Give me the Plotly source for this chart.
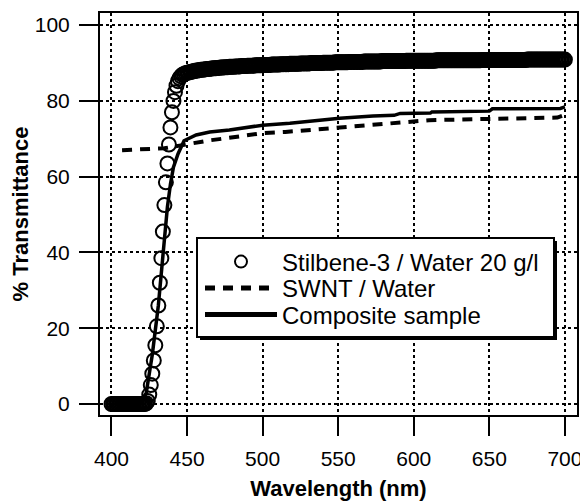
import plotly.graph_objects as go

# ---------------- data ----------------
stilbene_wl = list(range(400, 701))
stilbene_t = [
    0.0, 0.0, 0.0, 0.0, 0.0, 0.0, 0.0, 0.0, 0.0, 0.0,
    0.0, 0.0, 0.0, 0.0, 0.0, 0.0, 0.0, 0.0, 0.0, 0.0,
    0.0, 0.0, 0.0, 0.2, 0.8, 2.5, 5.0, 8.0, 11.5, 15.5,
    20.5, 26.0, 32.0, 38.5, 45.5, 52.5, 58.5, 63.5, 68.5, 73.0,
    77.0, 80.0, 82.3, 84.0, 85.2, 86.0, 86.5, 86.9, 87.1, 87.3,
    87.4, 87.5, 87.6, 87.7, 87.8, 87.9, 88.0, 88.0, 88.1, 88.2,
    88.2, 88.3, 88.3, 88.4, 88.4, 88.5, 88.5, 88.6, 88.6, 88.6,
    88.7, 88.7, 88.8, 88.8, 88.8, 88.9, 88.9, 88.9, 89.0, 89.0,
    89.0, 89.0, 89.1, 89.1, 89.1, 89.1, 89.2, 89.2, 89.2, 89.2,
    89.3, 89.3, 89.3, 89.3, 89.3, 89.4, 89.4, 89.4, 89.4, 89.4,
    89.5, 89.5, 89.5, 89.5, 89.5, 89.5, 89.6, 89.6, 89.6, 89.6,
    89.6, 89.6, 89.7, 89.7, 89.7, 89.7, 89.7, 89.7, 89.8, 89.8,
    89.8, 89.8, 89.8, 89.8, 89.8, 89.9, 89.9, 89.9, 89.9, 89.9,
    89.9, 89.9, 90.0, 90.0, 90.0, 90.0, 90.0, 90.0, 90.0, 90.0,
    90.1, 90.1, 90.1, 90.1, 90.1, 90.1, 90.1, 90.1, 90.2, 90.2,
    90.2, 90.2, 90.2, 90.2, 90.2, 90.2, 90.2, 90.3, 90.3, 90.3,
    90.3, 90.3, 90.3, 90.3, 90.3, 90.3, 90.3, 90.4, 90.4, 90.4,
    90.4, 90.4, 90.4, 90.4, 90.4, 90.4, 90.4, 90.4, 90.4, 90.5,
    90.5, 90.5, 90.5, 90.5, 90.5, 90.5, 90.5, 90.5, 90.5, 90.5,
    90.5, 90.5, 90.5, 90.5, 90.5, 90.6, 90.6, 90.6, 90.6, 90.6,
    90.6, 90.6, 90.6, 90.6, 90.6, 90.6, 90.6, 90.6, 90.6, 90.6,
    90.6, 90.6, 90.6, 90.6, 90.6, 90.7, 90.7, 90.7, 90.7, 90.7,
    90.7, 90.7, 90.7, 90.7, 90.7, 90.7, 90.7, 90.7, 90.7, 90.7,
    90.7, 90.7, 90.7, 90.7, 90.7, 90.7, 90.7, 90.7, 90.7, 90.7,
    90.7, 90.7, 90.7, 90.7, 90.7, 90.8, 90.8, 90.8, 90.8, 90.8,
    90.8, 90.8, 90.8, 90.8, 90.8, 90.8, 90.8, 90.8, 90.8, 90.8,
    90.8, 90.8, 90.8, 90.8, 90.8, 90.8, 90.8, 90.8, 90.8, 90.8,
    90.8, 90.8, 90.8, 90.8, 90.8, 90.9, 90.9, 90.9, 90.9, 90.9,
    90.9, 90.9, 90.9, 90.9, 90.9, 90.9, 90.9, 90.9, 90.9, 90.9,
    90.9, 90.9, 90.9, 90.9, 90.9, 90.9, 90.9, 90.9, 90.9, 90.9,
    90.9,
]

swnt_wl = [407, 415, 425, 435, 445, 455, 465, 475, 485, 500, 515, 530,
           545, 560, 575, 590, 600, 610, 620, 640, 660, 680, 695, 700]
swnt_t = [67.0, 67.1, 67.2, 67.5, 68.2, 69.0, 69.6, 70.1, 70.6, 71.5, 71.8, 72.3,
          72.7, 73.2, 73.6, 74.1, 74.4, 74.9, 75.0, 75.1, 75.4, 75.5, 75.6, 76.3]

composite_wl = [400, 410, 420, 423, 427, 431, 434, 437, 439, 441, 444, 448,
                456, 465, 478, 500, 518, 538, 551, 573, 587, 591, 611, 612,
                650, 652, 697, 700]
composite_t = [0.0, 0.0, 0.3, 3.0, 13.0, 26.0, 39.0, 52.0, 58.0, 62.5, 66.0, 69.5,
               71.0, 71.8, 72.3, 73.6, 74.1, 74.9, 75.4, 76.0, 76.2, 76.7, 76.8, 77.1,
               77.3, 77.9, 78.0, 78.4]

x_ticks = [400, 450, 500, 550, 600, 650, 700]
y_ticks = [0, 20, 40, 60, 80, 100]

FONT = "Arial, Liberation Sans, sans-serif"

fig = go.Figure()
fig.add_trace(go.Scatter(
    x=stilbene_wl, y=stilbene_t, mode="markers", name="Stilbene-3 / Water 20 g/l",
    legend="legend",
    marker=dict(symbol="circle-open", size=14, color="black", line=dict(width=2, color="black")),
))
fig.add_trace(go.Scatter(
    x=swnt_wl, y=swnt_t, mode="lines", name="SWNT / Water", legend="legend2",
    line=dict(color="black", width=4, dash="10px,8px"),
))
fig.add_trace(go.Scatter(
    x=composite_wl, y=composite_t, mode="lines", name="Composite sample", legend="legend3",
    line=dict(color="black", width=3.5),
))

axis_common = dict(
    showline=True, linecolor="black", linewidth=2, mirror=True,
    ticks="outside", ticklen=19, tickwidth=2, tickcolor="black",
    showgrid=True, gridcolor="black", gridwidth=1.5, griddash="3px,3px",
    zeroline=False, automargin=False,
    tickfont=dict(family=FONT, size=21, color="black"),
)

# plot area in page pixels: x 100..577, y 13..415 (page has an 8px body margin)
def px_x(p):
    return (p - 100) / 477.0

def px_y(p):
    return (415 - p) / 402.0

leg_common = dict(
    xanchor="left", yanchor="middle", bgcolor="rgba(0,0,0,0)", borderwidth=0,
    font=dict(family=FONT, size=24, color="black"),
    itemsizing="constant", itemwidth=72,
)

fig.update_layout(
    width=580, height=493,
    margin=dict(l=92, r=11, t=5, b=86),
    paper_bgcolor="white", plot_bgcolor="white",
    font=dict(family=FONT, color="black"),
    xaxis=dict(range=[392.4, 708], tickvals=x_ticks, ticklabelstandoff=5,
               title=dict(text="<b>Wavelength (nm)</b>", font=dict(family=FONT, size=22), standoff=14),
               **axis_common),
    yaxis=dict(range=[-2.9, 103.2], tickvals=y_ticks, ticklabelstandoff=5,
               title=dict(text="<b>% Transmittance</b>", font=dict(family=FONT, size=22), standoff=5),
               **axis_common),
    legend=dict(x=px_x(200), y=px_y(262), **leg_common),
    legend2=dict(x=px_x(200), y=px_y(288.5), **leg_common),
    legend3=dict(x=px_x(200), y=px_y(315), **leg_common),
    showlegend=True,
    shapes=[
        dict(type="rect", xref="paper", yref="paper",
             x0=px_x(200), x1=px_x(557), y0=px_y(340), y1=px_y(241),
             fillcolor="black", line=dict(width=0), layer="above"),
        dict(type="rect", xref="paper", yref="paper",
             x0=px_x(197), x1=px_x(554), y0=px_y(337), y1=px_y(238),
             fillcolor="white", line=dict(color="black", width=2), layer="above"),
    ],
)

fig.write_html("out.html")
